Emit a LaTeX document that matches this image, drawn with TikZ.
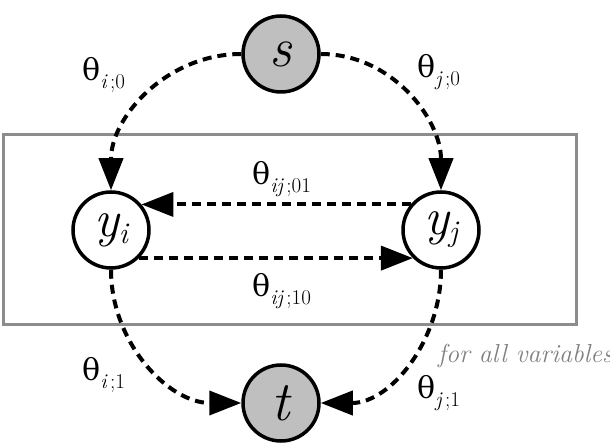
\documentclass[tikz,border=0pt]{standalone}
\usepackage{fontspec}
\newfontfamily\thfont{DejaVu Serif}
\usetikzlibrary{arrows.meta}
\newcommand{\thlab}[2]{{\thfont\fontsize{30}{30}\selectfont θ}\raisebox{-8pt}{\fontsize{21}{21}\selectfont\itshape #1\upshape\,#2}}
\tikzset{
  var/.style={circle, draw=black, line width=3.5pt, minimum size=76pt, inner sep=0pt, fill=white},
  term/.style={var, fill=black!25},
  edge/.style={line width=4pt, dash pattern=on 9pt off 6pt, -{Triangle[length=32pt,width=24pt]}},
  lab/.style={anchor=base west, inner sep=0pt},
}
\begin{document}
\begin{tikzpicture}[x=1pt,y=-1pt]
\useasboundingbox (0,0) rectangle (610,443);
\fill[white] (0,0) rectangle (610,443);
\draw[line width=3pt, draw=black!45] (3,135) rectangle (576,325);
\node[term, font=\fontsize{56}{56}\selectfont\itshape] (s) at (281,54) {s};
\node[term, font=\fontsize{56}{56}\selectfont\itshape] (t) at (281,403) {t};
\node[var, font=\fontsize{52}{52}\selectfont\itshape] (yi) at (111,230) {y\raisebox{-7pt}{\fontsize{30}{30}\selectfont i}};
\node[var, font=\fontsize{52}{52}\selectfont\itshape] (yj) at (441,230) {y\raisebox{-7pt}{\fontsize{30}{30}\selectfont j}};
\draw[edge] (s.west) to[out=180,in=90] (yi.north);
\draw[edge] (s.east) to[out=0,in=90] (yj.north);
\draw[edge] (yj.140) -- (yi.40);
\draw[edge] (yi.-45) -- (yj.-135);
\draw[edge] (yi.south) to[out=-90,in=180] (t.west);
\draw[edge] (yj.south) to[out=-90,in=0] (t.east);
\node[lab] (l1) at (82,81) {\thlab{i}{;0}};
\node[lab] (l2) at (417,78) {\thlab{j}{;0}};
\node[lab] (l3) at (252,185) {\thlab{ij}{;01}};
\node[lab] (l4) at (252,297) {\thlab{ij}{;10}};
\node[lab] (l5) at (82,380) {\thlab{i}{;1}};
\node[lab] (l6) at (417,398) {\thlab{j}{;1}};
\node[lab, text=black!50, font=\fontsize{26}{26}\selectfont\itshape] (fa) at (438,362) {for all variables};
\end{tikzpicture}
\end{document}
